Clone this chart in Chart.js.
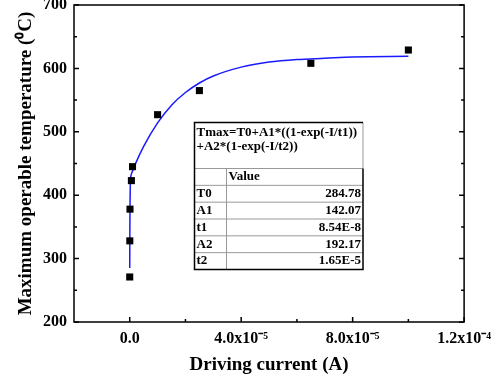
<!DOCTYPE html>
<html>
<head>
<meta charset="utf-8">
<script src="https://cdn.jsdelivr.net/npm/chart.js@4.4.1/dist/chart.umd.min.js"></script>
<style>
  html, body { margin: 0; padding: 0; background: #fff; }
  canvas { display: block; }
</style>
</head>
<body>
<canvas id="chart" width="498" height="381"></canvas>
<script>
// measured points
const currentA = [0, 3e-8, 1e-7, 6e-7, 1e-6, 1.0e-5, 2.5e-5, 6.5e-5, 1.0e-4];
const tempC = [271, 328, 378, 423, 445, 527, 565, 608, 629];

// fitted curve
const fitCurrent = [0, 5e-8, 1e-7, 2e-7, 3e-7, 5e-7, 1e-6, 2e-6, 5e-6, 1e-5, 1.5e-5, 2e-5, 2.5e-5, 3e-5, 4e-5, 5e-5, 6e-5, 7e-5, 8e-5, 1e-4];
const fitTemp = [285, 348, 384, 415, 426, 432, 438, 449, 477, 514, 542, 562, 577, 588, 602, 610, 614, 616, 618, 619];

const xTickValues = [0, 4e-5, 8e-5, 1.2e-4];
const xTickLabels = ['0.0', '4.0x10\u207B\u2075', '8.0x10\u207B\u2075', '1.2x10\u207B\u2074'];
const xMinorTicks = [2e-5, 6e-5, 1e-4];
const yTickValues = [200, 300, 400, 500, 600, 700];
const yMinorTicks = [250, 350, 450, 550, 650];

const equationLines = ['Tmax=T0+A1*((1-exp(-I/t1))', '+A2*(1-exp(-I/t2))'];
const paramNames = ['T0', 'A1', 't1', 'A2', 't2'];
const paramValues = ['284.78', '142.07', '8.54E-8', '192.17', '1.65E-5'];

const SERIF = "'Liberation Serif', 'Times New Roman', serif";

const frameAndTicks = {
    id: 'frameAndTicks',
    afterDatasetsDraw(chart) {
        const { ctx, chartArea: a, scales: { x, y } } = chart;
        ctx.save();
        ctx.strokeStyle = '#000';
        ctx.lineWidth = 1.5;
        ctx.strokeRect(a.left, a.top, a.right - a.left, a.bottom - a.top);
        ctx.beginPath();
        xTickValues.concat(xMinorTicks).forEach(v => {
            const px = x.getPixelForValue(v);
            const len = xMinorTicks.includes(v) ? 3 : 5;
            ctx.moveTo(px, a.bottom);
            ctx.lineTo(px, a.bottom - len);
        });
        yTickValues.concat(yMinorTicks).forEach(v => {
            const py = y.getPixelForValue(v);
            const len = yMinorTicks.includes(v) ? 3 : 5;
            ctx.moveTo(a.left, py);
            ctx.lineTo(a.left + len, py);
            ctx.moveTo(a.right, py);
            ctx.lineTo(a.right - len, py);
        });
        ctx.stroke();
        ctx.restore();
    }
};

const fitTable = {
    id: 'fitTable',
    afterDraw(chart) {
        const { ctx, chartArea: a } = chart;
        const left = a.left + 120.5, top = a.top + 117.5;
        const right = left + 168.5, bottom = top + 147;
        const headTop = top + 46;
        const rowH = (bottom - headTop) / 6;
        const colX = left + 32;
        ctx.save();
        ctx.fillStyle = '#fff';
        ctx.fillRect(left, top, right - left, bottom - top);

        // inner grid lines
        ctx.strokeStyle = '#999';
        ctx.lineWidth = 1;
        ctx.beginPath();
        ctx.moveTo(left, headTop); ctx.lineTo(right, headTop);
        for (let i = 1; i < 6; i++) {
            ctx.moveTo(left, headTop + i * rowH);
            ctx.lineTo(right, headTop + i * rowH);
        }
        ctx.moveTo(colX, headTop); ctx.lineTo(colX, bottom);
        ctx.moveTo(right, top); ctx.lineTo(right, headTop);
        ctx.stroke();

        // outer border
        ctx.strokeStyle = '#000';
        ctx.lineWidth = 1.5;
        ctx.beginPath();
        ctx.moveTo(right, top); ctx.lineTo(left, top);
        ctx.lineTo(left, bottom); ctx.lineTo(right, bottom);
        ctx.lineTo(right, headTop);
        ctx.stroke();

        ctx.fillStyle = '#000';
        ctx.font = `bold 13px ${SERIF}`;
        ctx.textBaseline = 'middle';
        ctx.textAlign = 'left';
        equationLines.forEach((t, i) => ctx.fillText(t, left + 2, top + 10 + i * 14.5));
        ctx.fillText('Value', colX + 2, headTop + rowH / 2);
        paramNames.forEach((n, i) => {
            const cy = headTop + (i + 1.5) * rowH;
            ctx.textAlign = 'left';
            ctx.fillText(n, left + 2, cy);
            ctx.textAlign = 'right';
            ctx.fillText(paramValues[i], right - 2, cy);
        });
        ctx.restore();
    }
};

new Chart(document.getElementById('chart'), {
    type: 'scatter',
    data: {
        datasets: [
            {
                data: currentA.map((v, i) => ({ x: v, y: tempC[i] })),
                pointStyle: 'rect',
                pointRadius: 5,
                backgroundColor: '#000',
                borderWidth: 0,
                order: 1
            },
            {
                data: fitCurrent.map((v, i) => ({ x: v, y: fitTemp[i] })),
                showLine: true,
                pointRadius: 0,
                borderColor: '#1a1aff',
                borderWidth: 1.5,
                cubicInterpolationMode: 'monotone',
                order: 2
            }
        ]
    },
    options: {
        responsive: false,
        animation: false,
        layout: { padding: { top: 5, right: 32, left: 0, bottom: 0 } },
        plugins: { legend: { display: false }, tooltip: { enabled: false } },
        scales: {
            x: {
                type: 'linear',
                min: -2e-5,
                max: 1.2e-4,
                afterBuildTicks: s => { s.ticks = xTickValues.map(v => ({ value: v })); },
                afterFit: s => { s.height = 59; },
                ticks: {
                    autoSkip: false,
                    maxRotation: 0,
                    padding: 7,
                    color: '#000',
                    font: { family: SERIF, size: 16, weight: 'bold' },
                    callback: v => xTickLabels[xTickValues.indexOf(v)] ?? ''
                },
                grid: { display: false, drawTicks: false, tickLength: 0 },
                border: { display: false },
                title: {
                    display: true,
                    text: 'Driving current (A)',
                    color: '#000',
                    font: { family: SERIF, size: 19, weight: 'bold' },
                    padding: { top: 4, bottom: 5 }
                }
            },
            y: {
                min: 200,
                max: 700,
                afterBuildTicks: s => { s.ticks = yTickValues.map(v => ({ value: v })); },
                afterFit: s => { s.width = 74; s.paddingTop = 0; s.paddingBottom = 0; },
                ticks: {
                    padding: 7,
                    color: '#000',
                    font: { family: SERIF, size: 16, weight: 'bold' }
                },
                grid: { display: false, drawTicks: false, tickLength: 0 },
                border: { display: false },
                title: {
                    display: true,
                    text: 'Maximum operable temperature (\u2070C)',
                    color: '#000',
                    font: { family: SERIF, size: 19, weight: 'bold' },
                    padding: { top: 15, bottom: 0 }
                }
            }
        }
    },
    plugins: [frameAndTicks, fitTable]
});
</script>
</body>
</html>
